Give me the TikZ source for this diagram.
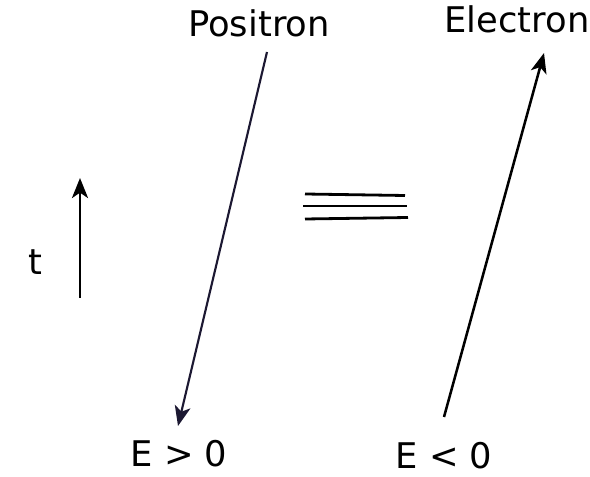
\documentclass[tikz,border=0pt]{standalone}
\usepackage{fontspec}
\setmainfont{DejaVu Sans}
\usetikzlibrary{arrows.meta}

\definecolor{navy}{RGB}{28,24,50}

\tikzset{
	label/.style={font=\fontsize{26.5}{32}\selectfont, inner sep=0pt, anchor=base},
	worldline/.style={line width=1.6pt, -{Stealth[length=15pt, width=12pt, inset=4pt]}},
}

\begin{document}
\begin{tikzpicture}[x=0.75pt, y=-0.75pt]
		\useasboundingbox (0, 0) rectangle (590, 477);

		\node[label] (positron) at (259, 37) {Positron};
		\node[label] (electron) at (517, 33) {Electron};
		\node[label] (egt) at (179, 467) {E > 0};
		\node[label] (elt) at (444, 469) {E < 0};
		\node[label] (time) at (35, 275) {t};

		\coordinate (P1) at (267, 52);
		\coordinate (P2) at (178, 426);

		\coordinate (E1) at (444, 417);
		\coordinate (E2) at (544, 53);

		\coordinate (T1) at (80, 298);
		\coordinate (T2) at (80, 178);

		\draw[worldline, navy] (P1) -- (P2);
		\draw[worldline, black, line width=1.9pt] (E1) -- (E2);
		\draw[worldline, black, line width=2.1pt] (T1) -- (T2);

		\draw[line width=2.1pt] (305, 194) -- (405, 195.5);
		\draw[line width=2.1pt] (303, 206) -- (407, 206);
		\draw[line width=2.1pt] (305, 219) -- (408, 217.5);
	\end{tikzpicture}
\end{document}
